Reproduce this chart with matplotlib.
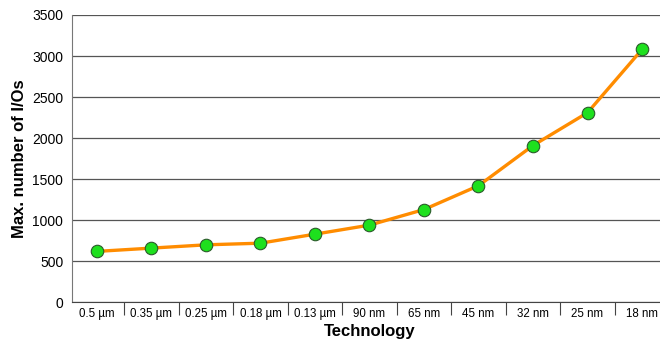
import matplotlib
matplotlib.use("Agg")
import matplotlib.pyplot as plt

plt.rcParams['font.family'] = ['Liberation Sans', 'DejaVu Sans']

# Max I/O count per technology node
technology = ['0.5 µm', '0.35 µm', '0.25 µm', '0.18 µm', '0.13 µm',
              '90 nm', '65 nm', '45 nm', '32 nm', '25 nm', '18 nm']
max_ios = [620, 660, 700, 720, 830, 940, 1130, 1420, 1910, 2310, 3080]
y_ticks = [0, 500, 1000, 1500, 2000, 2500, 3000, 3500]

fig = plt.figure(figsize=(6.6, 3.43), dpi=100)
ax = fig.add_axes([0.1086, 0.1187, 0.8914, 0.8376])

x = list(range(len(technology)))
ax.plot(x, max_ios, color='#FF8C00', linewidth=2.4, zorder=3)
ax.plot(x, max_ios, linestyle='none', marker='o', markersize=9,
        markerfacecolor='#1EE01E', markeredgecolor='#2a5a2a',
        markeredgewidth=0.8, zorder=4)

ax.set_ylim(0, 3500)
ax.set_yticks(y_ticks)
ax.set_yticklabels([str(v) for v in y_ticks], fontsize=10)
ax.yaxis.grid(True, color='#555555', linewidth=0.9)
ax.set_axisbelow(True)

ax.set_xlim(-0.464, 10.33)
ax.set_xticks(x)
ax.set_xticklabels(technology, fontsize=8.3)
ax.set_xticks([i + 0.5 for i in x[:-1]], minor=True)
ax.tick_params(axis='x', which='major', length=0, pad=4)
ax.tick_params(axis='x', which='minor', length=9, width=0.8, color='#444444',
               direction='out')
ax.tick_params(axis='y', length=0, pad=6)

ax.spines['top'].set_visible(False)
ax.spines['right'].set_visible(False)
ax.spines['left'].set_color('#777777')
ax.spines['bottom'].set_color('#444444')

ax.set_ylabel('Max. number of I/Os', fontsize=12, fontweight='bold', labelpad=4)
fig.text(0.56, 0.02, 'Technology', fontsize=12, fontweight='bold', ha='center')

fig.savefig('out.png', dpi=100)
